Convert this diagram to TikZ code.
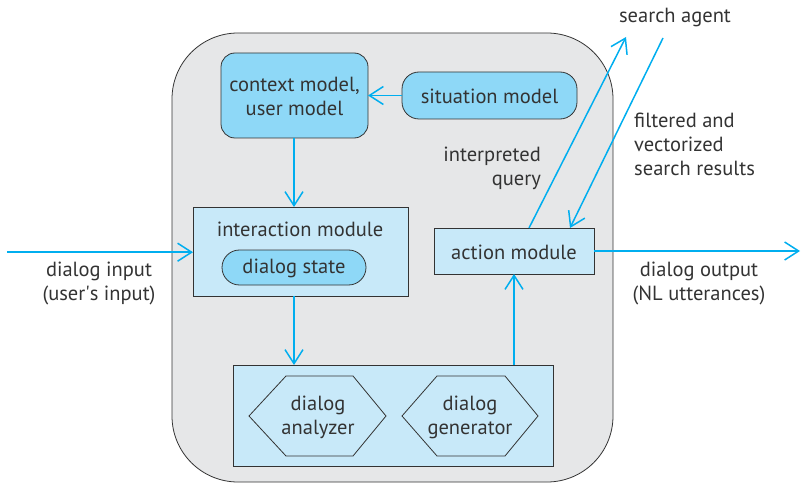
\documentclass[tikz,border=0pt]{standalone}
\usepackage{fontspec}
\setmainfont{PT Sans}
\usetikzlibrary{arrows.meta,shapes.geometric}
\definecolor{flow}{HTML}{00AEEF}
\definecolor{paleblue}{HTML}{C8E9F9}
\definecolor{midblue}{HTML}{8ED8F7}
\definecolor{panel}{HTML}{E6E7E8}
\definecolor{edge}{HTML}{333333}
\tikzset{
  lbl/.style={font=\fontsize{20.5}{24}\selectfont, text=edge, inner sep=0pt},
  flowarrow/.style={draw=flow, line width=1.5pt, -{Straight Barb[length=14pt,width=18pt,line width=1.5pt]}},
  squarebox/.style={draw=edge, line width=0.8pt, fill=paleblue},
  roundbox/.style={draw=edge, line width=0.8pt, fill=midblue, rounded corners=14pt},
  pillbox/.style={draw=edge, line width=0.8pt, fill=midblue, rounded corners=17pt},
  hexbox/.style={draw=edge, line width=0.8pt, fill=paleblue},
}
\begin{document}
\begin{tikzpicture}[x=1pt,y=-1pt]
\useasboundingbox (0,0) rectangle (801,484);
% outer panel
\draw[draw=edge, line width=0.8pt, fill=panel, rounded corners=66pt] (172,33) rectangle (613,482);

% boxes
\draw[roundbox] (221,53) rectangle (368,138);
\node[lbl, align=center] (ctx) at (294.5,96) {context model,\\user model};
\coordinate (ctxL) at (368,95.5);
\coordinate (ctxB) at (294,138);

\draw[pillbox] (402,72) rectangle (577,119);
\node[lbl] (sit) at (489.5,96.5) {situation model};
\coordinate (sitL) at (402,95.5);

\draw[squarebox] (193,207) rectangle (408,296);
\node[lbl] (inter) at (300,229.5) {interaction module};
\coordinate (interT) at (294,207);
\coordinate (interB) at (294,296);
\coordinate (interL) at (193,252.2);

\draw[pillbox, rounded corners=17.5pt] (222,250) rectangle (366,285);
\node[lbl] (state) at (294,268.5) {dialog state};

\draw[squarebox] (434,228) rectangle (594,274);
\node[lbl] (action) at (514,252) {action module};
\coordinate (actR) at (594,251);
\coordinate (actB) at (514,274);
\coordinate (actQ) at (529,228);
\coordinate (actS) at (570,228);

\draw[squarebox] (233,365) rectangle (553,466);
\coordinate (botT) at (294,365);
\coordinate (botA) at (514,365);

\draw[hexbox] (249,416) -- (286,376) -- (353,376) -- (386,416) -- (353,456) -- (286,456) -- cycle;
\node[lbl, align=center] (ana) at (318,417) {dialog\\analyzer};
\draw[hexbox] (402,416) -- (437,376) -- (505,376) -- (538,416) -- (505,456) -- (437,456) -- cycle;
\node[lbl, align=center] (gen) at (470,417) {dialog\\generator};

% external ends
\coordinate (inStart) at (7,252.2);
\coordinate (outEnd) at (800,251);
\coordinate (agentIn) at (626,37);
\coordinate (agentOut) at (663,38);
\node[lbl] (agent) at (675,17) {search agent};

% connectors
\draw[flowarrow] (sitL) -- (ctxL);
\draw[flowarrow] (ctxB) -- (interT);
\draw[flowarrow] (interB) -- (botT);
\draw[flowarrow] (botA) -- (actB);
\draw[flowarrow] (inStart) -- (interL);
\draw[flowarrow] (actR) -- (outEnd);
\draw[flowarrow] (actQ) -- (agentIn);
\draw[flowarrow] (agentOut) -- (actS);

% labels
\node[lbl, align=center] (inlbl) at (99,283) {dialog input\\(user\textquotesingle s input)};
\node[lbl, align=center] (outlbl) at (699,283) {dialog output\\(NL utterances)};
\node[lbl, align=right, anchor=north east] (qlbl) at (541,147) {interpreted\\query};
\node[lbl, align=left, anchor=north west] (reslbl) at (634,113) {filtered and\\vectorized\\search results};
\end{tikzpicture}
\end{document}
